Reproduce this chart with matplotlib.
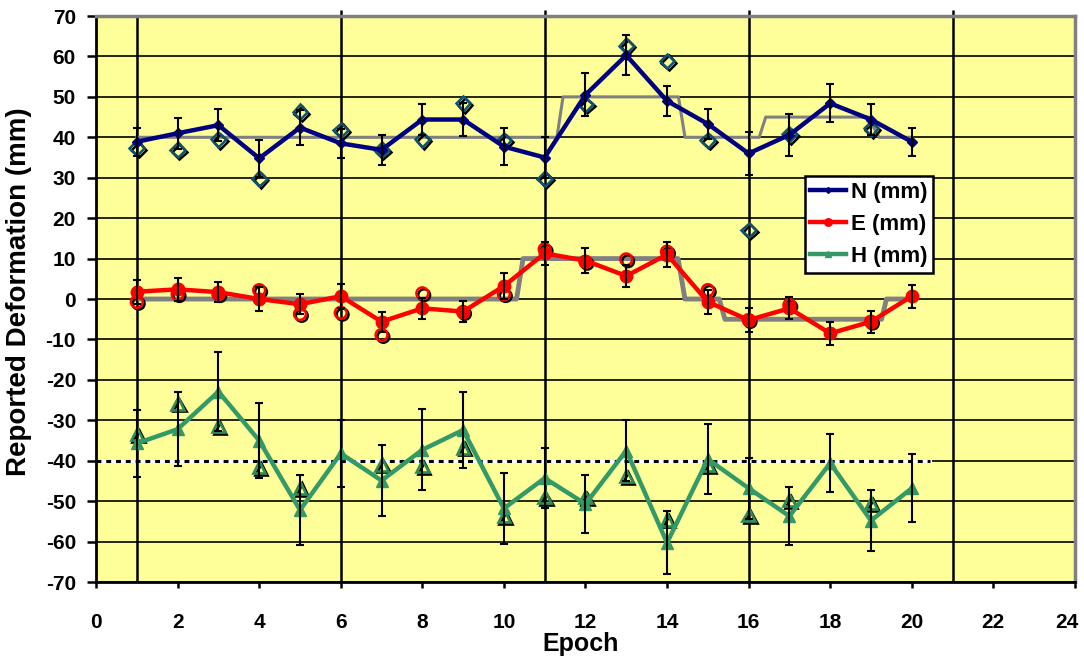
import matplotlib
matplotlib.use("Agg")
import matplotlib.pyplot as plt
import matplotlib.patheffects as pe
import numpy as np

plt.rcParams['font.family'] = ['Liberation Sans', 'DejaVu Sans']
plt.rcParams['font.weight'] = 'bold'
plt.rcParams['axes.unicode_minus'] = False

epochs = np.arange(1, 21)

# Reported deformation per epoch (mm) with error bars
n_vals = [38.9, 41.0, 43.0, 34.8, 42.4, 38.5, 36.9, 44.4, 44.4, 37.7,
          35.0, 50.5, 60.3, 49.0, 43.3, 36.0, 40.6, 48.4, 44.4, 38.9]
n_err = [3.5, 3.8, 3.9, 4.5, 4.4, 3.6, 3.7, 3.9, 4.0, 4.5,
         5.0, 5.3, 5.0, 3.8, 3.6, 5.2, 5.2, 4.7, 3.9, 3.5]
e_vals = [1.8, 2.4, 1.7, 0.0, -1.3, 0.7, -5.6, -2.3, -3.1, 3.2,
          11.3, 9.5, 5.7, 11.0, -0.7, -5.2, -2.3, -8.5, -5.6, 0.7]
e_err = [3.0, 2.9, 2.5, 3.0, 2.5, 3.0, 2.5, 2.6, 2.5, 3.2,
         2.8, 3.0, 2.8, 3.0, 3.0, 2.9, 2.7, 2.8, 2.7, 2.8]
h_vals = [-35.7, -32.2, -22.9, -35.0, -52.2, -38.2, -44.9, -37.3, -32.4, -51.8,
          -44.3, -50.7, -37.5, -60.3, -39.6, -46.8, -53.7, -40.6, -54.8, -46.8]
h_err = [8.2, 9.2, 9.8, 9.2, 8.7, 8.3, 8.8, 10.0, 9.4, 8.8,
         7.4, 7.2, 7.6, 7.8, 8.7, 7.6, 7.2, 7.2, 7.6, 8.4]

# Measured values (hollow markers)
n_meas_x = [1, 2, 3, 4, 5, 6, 7, 8, 9, 10, 11, 12, 13, 14, 15, 16, 17, 19]
n_meas = [37.4, 36.9, 39.5, 29.8, 46.3, 41.8, 36.9, 39.5, 48.4, 39.3,
          29.8, 48.2, 62.7, 58.9, 39.3, 17.1, 40.7, 42.2]
e_meas_x = [1, 2, 3, 4, 5, 6, 7, 8, 9, 10, 11, 12, 13, 14, 15, 16, 17, 19]
e_meas = [-0.7, 1.2, 1.2, 2.2, -3.7, -3.4, -8.9, 1.4, -3.2, 1.2,
          12.3, 9.2, 9.8, 11.7, 2.2, -5.2, -1.5, -5.6]
h_meas_x = [1, 2, 3, 4, 5, 7, 8, 9, 10, 11, 12, 13, 14, 15, 16, 17, 19]
h_meas = [-33.4, -25.8, -31.4, -41.6, -46.7, -40.9, -41.3, -36.7, -53.7,
          -49.0, -49.0, -43.8, -54.5, -41.1, -53.4, -49.7, -50.5]

# Applied (true) displacement profiles
n_ref_x = [1, 11.3, 11.45, 14.28, 14.44, 16.26, 16.42, 18.93, 19.2, 20]
n_ref = [40, 40, 50, 50, 40, 40, 45, 45, 40, 40]
e_ref_x = [1, 10.31, 10.47, 14.27, 14.44, 15.28, 15.42, 19.26, 19.38, 20]
e_ref = [0, 0, 10, 10, 0, 0, -5, -5, 0, 0]
h_ref_x = [0, 20.45]
h_ref = [-40, -40]

# Epoch separators
sep_x = [1, 6, 11, 16, 21]
sep_top = [70, 71.6, 71.6, 71.6, 71.6]

x_ticks = list(range(0, 25, 2))
y_ticks = list(range(-70, 71, 10))

fig = plt.figure(figsize=(10.84, 6.62), dpi=100)
ax = fig.add_axes([0.0886, 0.1208, 0.903, 0.855])
ax.set_facecolor('#FFFF99')
ax.set_xlim(0, 24)
ax.set_ylim(-70, 70)

for y in y_ticks:
    ax.axhline(y, color='black', lw=1.2, zorder=1)
for x, top in zip(sep_x, sep_top):
    ax.plot([x, x], [-70, top], color='black', lw=1.8, zorder=1.5,
            clip_on=False, solid_capstyle='butt')

# reference profiles
ax.plot(n_ref_x, n_ref, color='#808080', lw=2.2, zorder=2)
ax.plot(e_ref_x, e_ref, color='#808080', lw=3.5, zorder=2)
ax.plot(h_ref_x, h_ref, color='white', lw=2.2, zorder=2)
ax.plot(h_ref_x, h_ref, color='black', lw=2.2, dashes=(1.6, 1.6), zorder=2.1)

shadow = [pe.SimpleLineShadow(offset=(1.3, -1.3), shadow_color='black', alpha=1.0),
          pe.Normal()]

ax.plot(n_meas_x, n_meas, ls='none', marker='D', ms=7.5, mfc='none',
        mec='#0E5470', mew=1.8, zorder=3, path_effects=shadow)
ax.plot(e_meas_x, e_meas, ls='none', marker='o', ms=8.5, mfc='none',
        mec='#FF0000', mew=1.8, zorder=3, path_effects=shadow)
ax.plot(h_meas_x, h_meas, ls='none', marker='^', ms=9, mfc='none',
        mec='#2E8B57', mew=1.9, zorder=3, path_effects=shadow)

ln_n, = ax.plot(epochs, n_vals, color='#000080', lw=3.2, marker='D', ms=5,
                label='N (mm)', zorder=4)
ln_e, = ax.plot(epochs, e_vals, color='#FF0000', lw=3.2, marker='o', ms=9,
                label='E (mm)', zorder=4)
ln_h, = ax.plot(epochs, h_vals, color='#339966', lw=3.2, marker='^', ms=8,
                label='H (mm)', zorder=4)

for vals, errs in ((n_vals, n_err), (e_vals, e_err), (h_vals, h_err)):
    ax.errorbar(epochs, vals, yerr=errs, fmt='none', ecolor='black',
                elinewidth=1.5, capsize=3, capthick=1.5, zorder=5)

ax.set_xticks(x_ticks)
ax.set_yticks(y_ticks)
ax.set_xticklabels([str(t) for t in x_ticks[:-1]] + [''])
ax.tick_params(axis='x', direction='out', length=4.5, width=1.8, pad=18,
               labelsize=15, colors='black')
ax.tick_params(axis='y', direction='out', length=6.5, width=1.8, pad=8,
               labelsize=15, colors='black')
for lab in ax.get_xticklabels() + ax.get_yticklabels():
    lab.set_fontweight('bold')

# last epoch label nudged inward so it stays on the canvas
ax.annotate(str(x_ticks[-1]), xy=(x_ticks[-1], 0),
            xycoords=('data', 'axes fraction'), xytext=(-6, -22.5),
            textcoords='offset points', ha='center', va='top',
            fontsize=15, fontweight='bold', annotation_clip=False)

for side in ('left', 'bottom'):
    ax.spines[side].set_color('black')
    ax.spines[side].set_linewidth(2)
for side in ('top', 'right'):
    ax.spines[side].set_color('#808080')
    ax.spines[side].set_linewidth(2.5)

fig.text(581 / 1084, 1 - 644 / 662, 'Epoch', fontsize=18, fontweight='bold',
         ha='center', va='center')
fig.text(19 / 1084, 1 - 292 / 662, 'Reported Deformation (mm)', fontsize=20,
         fontweight='bold', ha='center', va='center', rotation=90)

leg = ax.legend(handles=[ln_n, ln_e, ln_h], loc='upper left',
                bbox_to_anchor=(0.724, 0.717), borderaxespad=0,
                prop={'size': 16, 'weight': 'bold'}, frameon=True,
                fancybox=False, edgecolor='black', framealpha=1,
                handlelength=1.6, handletextpad=0.25, labelspacing=0.5,
                borderpad=0.25, markerscale=0.6)
leg.get_frame().set_linewidth(1.8)
leg.set_zorder(10)

fig.savefig('out.png', dpi=100)
